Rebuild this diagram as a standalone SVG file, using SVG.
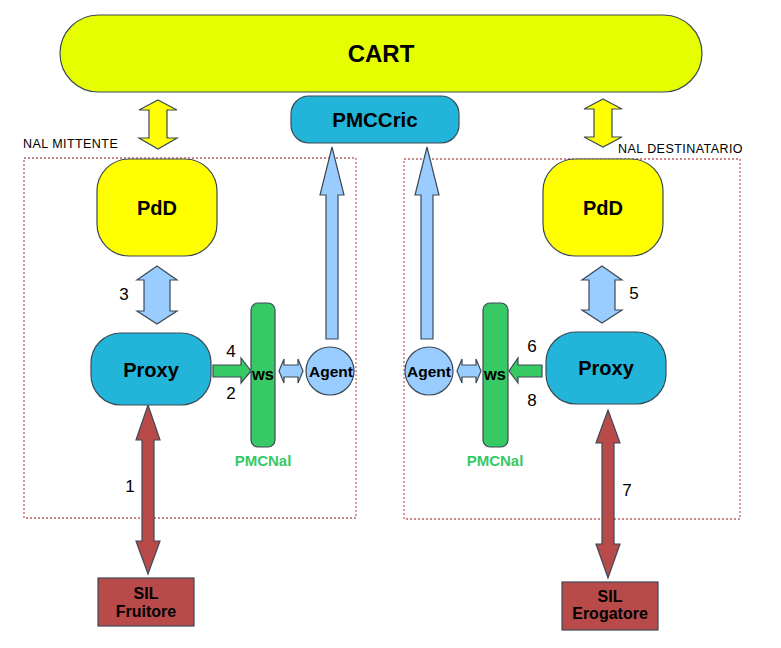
<svg xmlns="http://www.w3.org/2000/svg" width="781" height="648" viewBox="0 0 781 648">
<style>
text{font-family:"Liberation Sans",Arial,sans-serif;}
.b{font-weight:bold;text-anchor:middle;fill:#000;}
.n{font-size:17px;text-anchor:middle;fill:#000;}
.lbl{font-size:12.5px;fill:#000;letter-spacing:0.45px;}
.st{stroke:#3c4a55;stroke-width:1.2;}
.yl{fill:#ffff00;}
.lb{fill:#99ccff;}
.bl{fill:#22b5d9;}
.gr{fill:#36c964;}
.rd{fill:#b84a4a;}
.box{fill:none;stroke:#c06060;stroke-width:1.3;stroke-dasharray:2,2;}
.pm{font-size:15px;font-weight:bold;fill:#36c964;text-anchor:middle;}
</style>
<g id="zones">
<rect class="box" x="24" y="158" width="332" height="360"/>
<rect class="box" x="404" y="159" width="336" height="360"/>
<text class="lbl" x="23" y="148">NAL MITTENTE</text>
<text class="lbl" x="618" y="153">NAL DESTINATARIO</text>
</g>
<g id="connectors">
<path class="st yl" d="M158,100 L177,110 L167,110 L167,138 L177,138 L158,149 L139,138 L149,138 L149,110 L139,110 Z"/>
<path class="st yl" d="M603,99 L622,109 L612,109 L612,137 L622,137 L603,147 L584,137 L594,137 L594,109 L584,109 Z"/>
<path class="st lb" d="M157,266 L177,280 L170,280 L170,311 L177,311 L157,324 L137,311 L144,311 L144,280 L137,280 Z"/>
<path class="st lb" d="M602,266 L622,280 L615,280 L615,310 L622,310 L602,323 L582,310 L589,310 L589,280 L582,280 Z"/>
<path class="st lb" d="M332,147 L344,195 L338,195 L338,339 L326,339 L326,195 L320,195 Z"/>
<path class="st lb" d="M427,147 L439,195 L433,195 L433,339 L421,339 L421,195 L415,195 Z"/>
<path class="st gr" d="M213,365 L241,365 L241,358 L251,371 L241,383 L241,377 L213,377 Z"/>
<path class="st gr" d="M542,365 L518,365 L518,358 L509,371 L518,383 L518,377 L542,377 Z"/>
<path class="st lb" d="M279,371 L284,359 L284,365 L298,365 L298,359 L303,371 L298,383 L298,377 L284,377 L284,383 Z"/>
<path class="st lb" d="M457,371 L462,359 L462,365 L476,365 L476,359 L481,371 L476,383 L476,377 L462,377 L462,383 Z"/>
<path class="st rd" d="M148,405 L160,440 L154,440 L154,541 L160,541 L148,574 L136,541 L142,541 L142,440 L136,440 Z"/>
<path class="st rd" d="M608,410 L620,443 L614,443 L614,544 L620,544 L608,578 L596,544 L602,544 L602,443 L596,443 Z"/>
<text class="n" x="124" y="300">3</text>
<text class="n" x="634" y="299">5</text>
<text class="n" x="231" y="357">4</text>
<text class="n" x="231" y="399">2</text>
<text class="n" x="532" y="352">6</text>
<text class="n" x="532" y="406">8</text>
<text class="n" x="130" y="492">1</text>
<text class="n" x="627" y="496">7</text>
</g>
<g id="cart">
<rect x="60" y="15" width="642" height="77" rx="38.5" fill="#e6ff00" class="st"/>
<text class="b" x="381" y="62" font-size="24">CART</text>
</g>
<g id="pmccric">
<rect x="291" y="96" width="168" height="47" rx="18" class="st bl"/>
<text class="b" x="375" y="127" font-size="20.5">PMCCric</text>
</g>
<g id="pdd-left">
<rect x="97" y="159" width="120" height="97" rx="32" class="st yl"/>
<text class="b" x="157" y="215" font-size="20">PdD</text>
</g>
<g id="pdd-right">
<rect x="543" y="159" width="120" height="97" rx="32" class="st yl"/>
<text class="b" x="603" y="215" font-size="20">PdD</text>
</g>
<g id="proxy-left">
<rect x="91" y="333" width="120" height="72" rx="30" class="st bl"/>
<text class="b" x="151" y="377" font-size="20">Proxy</text>
</g>
<g id="proxy-right">
<rect x="546" y="332" width="120" height="72" rx="30" class="st bl"/>
<text class="b" x="606" y="375" font-size="20">Proxy</text>
</g>
<g id="ws-left">
<rect x="251" y="303" width="24" height="144" rx="7" class="st gr"/>
<text class="b" x="263" y="380" font-size="16.5">ws</text>
<text class="pm" x="263" y="466">PMCNal</text>
</g>
<g id="ws-right">
<rect x="483" y="303" width="25" height="144" rx="7" class="st gr"/>
<text class="b" x="495" y="380" font-size="16.5">ws</text>
<text class="pm" x="495" y="466">PMCNal</text>
</g>
<g id="agent-left">
<circle cx="330" cy="371" r="24" class="st lb"/>
<text class="b" x="331" y="377" font-size="15.5">Agent</text>
</g>
<g id="agent-right">
<circle cx="429" cy="371" r="24" class="st lb"/>
<text class="b" x="429" y="377" font-size="15.5">Agent</text>
</g>
<g id="sil-fruitore">
<rect x="98" y="578" width="96" height="48" class="st rd"/>
<text class="b" x="146" y="599" font-size="16">SIL</text>
<text class="b" x="146" y="617" font-size="16">Fruitore</text>
</g>
<g id="sil-erogatore">
<rect x="562" y="582" width="96" height="48" class="st rd"/>
<text class="b" x="610" y="602" font-size="16">SIL</text>
<text class="b" x="610" y="619" font-size="16">Erogatore</text>
</g>
</svg>
